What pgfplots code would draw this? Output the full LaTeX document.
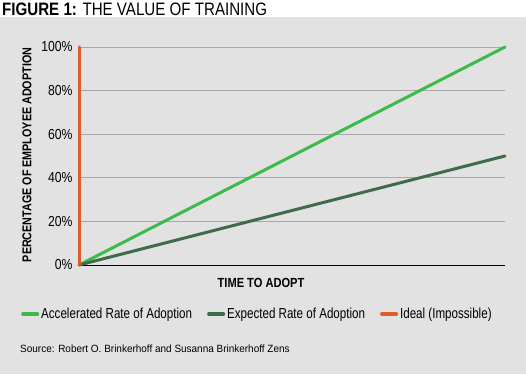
\documentclass[border=0pt]{standalone}
\usepackage{pgfplots}
\pgfplotsset{compat=1.18}
\usepackage{fontspec}
\setmainfont{Liberation Sans}[FakeStretch=0.84]
\newfontfamily\srcfont{Liberation Sans}[FakeStretch=0.95]
\newfontfamily\legfont{Liberation Sans}[FakeStretch=0.80]
\definecolor{bg}{HTML}{E2E2E2}
\definecolor{accel}{HTML}{3DBB4A}
\definecolor{expect}{HTML}{3F6B4C}
\definecolor{ideal}{HTML}{E35B2A}
\definecolor{gridc}{HTML}{A8A8A8}
\begin{document}
\begin{tikzpicture}[x=1pt,y=1pt]
\useasboundingbox (0,0) rectangle (526,374);
\fill[white] (0,0) rectangle (526,374);
\fill[bg] (0,0) rectangle (526,357);
\node[anchor=base west, inner sep=0, font=\fontsize{18}{18}\selectfont] at (2,358) {\textbf{FIGURE 1:} THE VALUE OF TRAINING};
\node[rotate=90, font=\bfseries\fontsize{12.8}{12.8}\selectfont] at (27,219) {PERCENTAGE OF EMPLOYEE ADOPTION};
\node[font=\bfseries\fontsize{13.2}{13.2}\selectfont] at (261,91) {TIME TO ADOPT};
\node[anchor=base west, inner sep=0, font=\srcfont\fontsize{10.5}{10.5}\selectfont] at (20,22) {Source: Robert O. Brinkerhoff and Susanna Brinkerhoff Zens};
\begin{axis}[
  at={(79pt,109pt)}, anchor=south west,
  scale only axis, width=426pt, height=218pt,
  xmin=0, xmax=100, ymin=0, ymax=100,
  clip=false,
  xtick=\empty,
  ytick={0,20,40,60,80,100},
  yticklabel={\pgfmathprintnumber{\tick}\%},
  /pgf/number format/assume math mode=true,
  yticklabel style={font=\fontsize{14.5}{14.5}\selectfont, anchor=east, xshift=-3pt},
  ymajorgrids,
  grid style={gridc, line width=0.8pt},
  major tick length=0pt,
  axis line style={draw=none},
  legend columns=3,
  legend style={at={(-58pt,-49pt)}, anchor=west, draw=none, fill=none,
    font=\legfont\fontsize{14.5}{14.5}\selectfont, inner sep=0pt,
    /tikz/every even column/.append style={column sep=13pt}},
  legend image code/.code={\draw[#1, line width=3pt] (0pt,0pt) -- (15pt,0pt);},
]
\draw[black, line width=0.8pt] (axis cs:0,0) -- (axis cs:100,0);
\addplot[accel, line width=3pt, line cap=round] coordinates {(0,0) (100,100)};
\addlegendentry{Accelerated Rate of Adoption}
\addplot[expect, line width=3pt, line cap=round] coordinates {(0,0) (100,50)};
\addlegendentry{Expected Rate of Adoption}
\addplot[ideal, line width=3pt, line cap=round] coordinates {(0,0) (0,100)};
\addlegendentry{Ideal (Impossible)}
\end{axis}
\end{tikzpicture}
\end{document}
